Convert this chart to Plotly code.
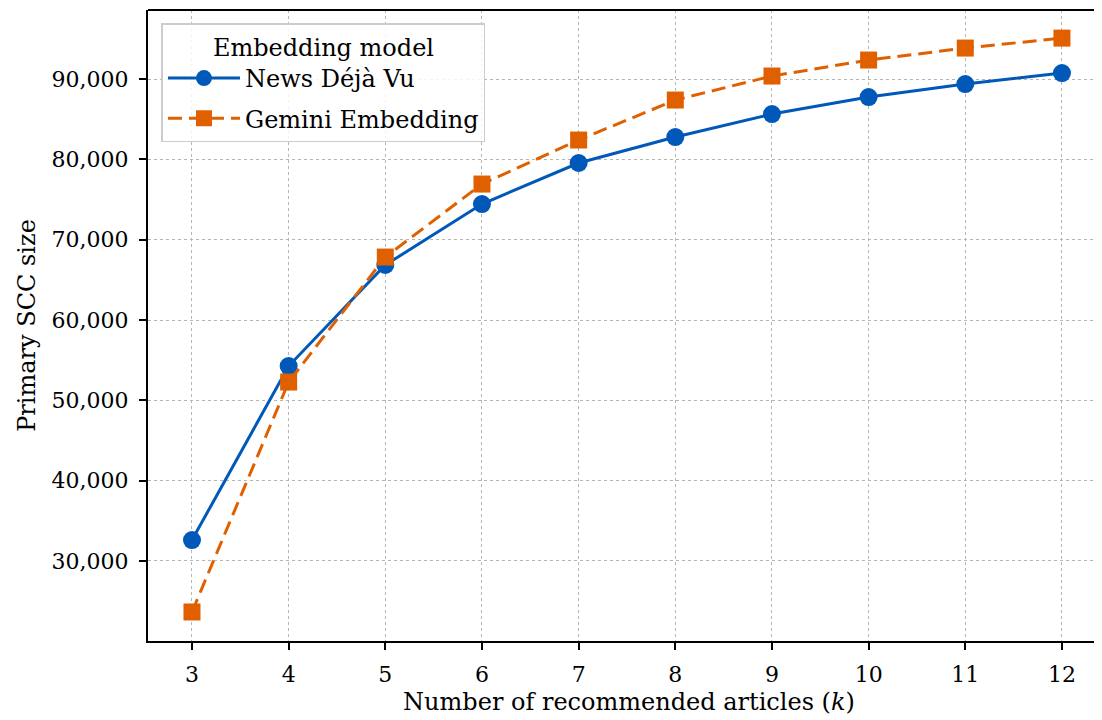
import plotly.graph_objects as go

k_values = [3, 4, 5, 6, 7, 8, 9, 10, 11, 12]
news_deja_vu = [32600, 54270, 66850, 74440, 79550, 82780, 85640, 87760, 89380, 90750]
gemini_embedding = [23650, 52280, 67840, 76930, 82410, 87390, 90380, 92370, 93860, 95100]
y_tick_values = [30000, 40000, 50000, 60000, 70000, 80000, 90000]

FONT = "DejaVu Serif"
BLUE = "#0058B8"
ORANGE = "#E06000"

fig = go.Figure()
fig.add_trace(go.Scatter(
    x=k_values, y=news_deja_vu, name="News Déjà Vu", mode="lines+markers",
    line=dict(color=BLUE, width=3), legendgroup="a",
    marker=dict(symbol="circle", size=18, color=BLUE),
))
fig.add_trace(go.Scatter(
    x=k_values, y=gemini_embedding, name="Gemini Embedding", mode="lines+markers",
    line=dict(color=ORANGE, width=3, dash="14px,7px"), legendgroup="b",
    marker=dict(symbol="square", size=17, color=ORANGE),
))

axis_common = dict(
    showline=True, linecolor="black", linewidth=2,
    ticks="outside", ticklen=7, tickwidth=1.5, tickcolor="black",
    showgrid=True, gridcolor="#b5b5b5", gridwidth=1, griddash="dot",
    zeroline=False, mirror=False,
    tickfont=dict(family=FONT, size=22, color="black"),
)

fig.update_xaxes(
    **axis_common,
    range=[2.545, 12.497],
    tickvals=k_values,
    ticklabelstandoff=6,
    title=dict(text="Number of recommended articles (<i>k</i>)",
               font=dict(family=FONT, size=24, color="black"), standoff=7),
)
fig.update_yaxes(
    **axis_common,
    range=[20035, 98600],
    tickvals=y_tick_values,
    tickformat=",d",
    ticklabelstandoff=6,
    title=dict(text="Primary SCC size",
               font=dict(family=FONT, size=24, color="black"), standoff=9),
)

fig.add_shape(type="line", xref="paper", yref="paper", x0=0, x1=1, y0=1, y1=1,
              line=dict(color="black", width=2))

fig.update_layout(
    width=1102, height=720,
    margin=dict(l=140, r=0, t=2, b=87),
    plot_bgcolor="white", paper_bgcolor="white",
    font=dict(family=FONT, size=22, color="black"),
    showlegend=True,
    legend=dict(
        title=dict(text="Embedding model", side="top center",
                   font=dict(family=FONT, size=24, color="black")),
        x=0.014, y=0.979, xanchor="left", yanchor="top",
        bgcolor="rgba(255,255,255,0.85)", bordercolor="#cccccc", borderwidth=1.5,
        font=dict(family=FONT, size=24, color="black"),
        itemwidth=72, tracegroupgap=6,
    ),
)

fig.write_html("out.html")
